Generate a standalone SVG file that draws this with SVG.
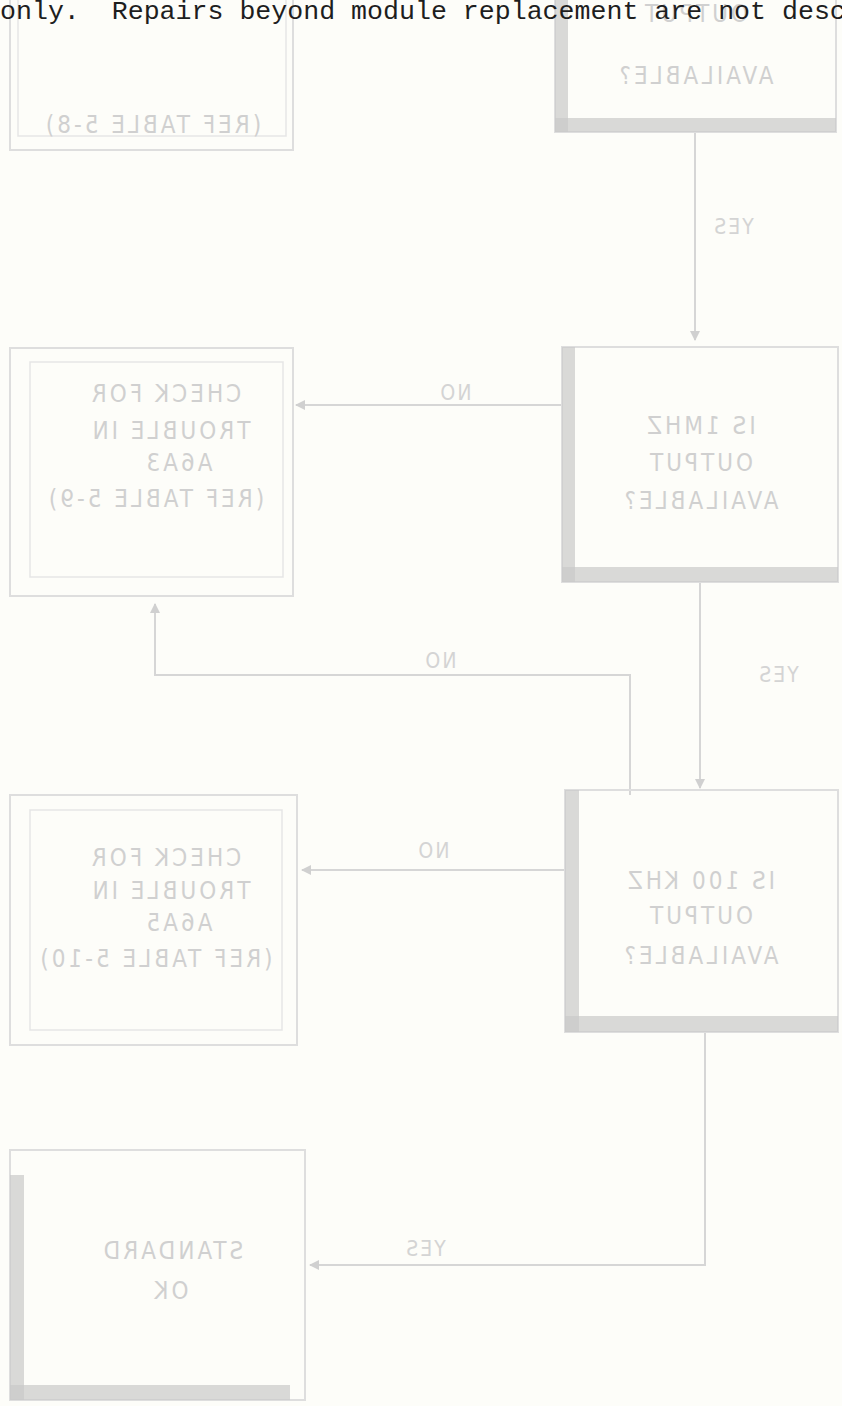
<svg xmlns="http://www.w3.org/2000/svg" width="842" height="1406" viewBox="0 0 842 1406">
<defs>
<style>
.bg{fill:#fdfdf9}
.box{fill:none;stroke:#dedede;stroke-width:2}
.boxi{fill:none;stroke:#e6e6e6;stroke-width:1.5}
.shade{fill:#c9c9c9;opacity:0.7}
.t{font-family:"DejaVu Sans Condensed","Liberation Sans",sans-serif;font-size:24px;fill:#d0d0d0;text-anchor:middle;letter-spacing:3px}
.lbl{font-family:"DejaVu Sans Condensed","Liberation Sans",sans-serif;font-size:21px;fill:#d4d4d4;text-anchor:middle;letter-spacing:2px}
.hdr{font-family:"Liberation Mono","DejaVu Sans Mono",monospace;font-size:26.6px;fill:#1e1e1e}
.c{fill:none;stroke:#d6d6d6;stroke-width:2}
</style>
<marker id="ah" viewBox="0 0 10 10" refX="9" refY="5" markerWidth="10" markerHeight="10" orient="auto" markerUnits="userSpaceOnUse">
<path d="M0,0 L10,5 L0,10 z" fill="#d0d0d0"/>
</marker>
</defs>
<rect class="bg" x="0" y="0" width="842" height="1406"/>

<g id="connectors">
<line class="c" x1="695" y1="132" x2="695" y2="340" marker-end="url(#ah)"/>
<line class="c" x1="562" y1="405" x2="296" y2="405" marker-end="url(#ah)"/>
<line class="c" x1="700" y1="582" x2="700" y2="788" marker-end="url(#ah)"/>
<polyline class="c" points="630,795 630,675 155,675 155,604" marker-end="url(#ah)"/>
<line class="c" x1="565" y1="870" x2="302" y2="870" marker-end="url(#ah)"/>
<polyline class="c" points="705,1032 705,1265 310,1265" marker-end="url(#ah)"/>
<g transform="translate(733 234) scale(-1 1)"><text class="lbl" x="0" y="0">YES</text></g>
<g transform="translate(455 400) scale(-1 1)"><text class="lbl" x="0" y="0">NO</text></g>
<g transform="translate(440 668) scale(-1 1)"><text class="lbl" x="0" y="0">NO</text></g>
<g transform="translate(778 682) scale(-1 1)"><text class="lbl" x="0" y="0">YES</text></g>
<g transform="translate(433 858) scale(-1 1)"><text class="lbl" x="0" y="0">NO</text></g>
<g transform="translate(425 1256) scale(-1 1)"><text class="lbl" x="0" y="0">YES</text></g>
</g>

<g id="nodeA">
<rect class="box" x="10" y="-10" width="283" height="160"/>
<rect class="boxi" x="18" y="-10" width="268" height="146"/>
<g transform="translate(152 133) scale(-1 1)"><text class="t" x="0" y="0">(REF TABLE 5-8)</text></g>
</g>

<g id="nodeB">
<rect class="box" x="555" y="-10" width="281" height="142"/>
<rect class="shade" x="555" y="0" width="13" height="132"/>
<rect class="shade" x="555" y="118" width="281" height="14"/>
<g transform="translate(695 22) scale(-1 1)"><text class="t" x="0" y="0">OUTPUT</text></g>
<g transform="translate(695 84) scale(-1 1)"><text class="t" x="0" y="0">AVAILABLE?</text></g>
</g>

<g id="nodeC">
<rect class="box" x="562" y="347" width="276" height="235"/>
<rect class="shade" x="562" y="347" width="13" height="235"/>
<rect class="shade" x="562" y="567" width="276" height="15"/>
<g transform="translate(700 434) scale(-1 1)"><text class="t" x="0" y="0">IS 1MHZ</text></g>
<g transform="translate(700 471) scale(-1 1)"><text class="t" x="0" y="0">OUTPUT</text></g>
<g transform="translate(700 509) scale(-1 1)"><text class="t" x="0" y="0">AVAILABLE?</text></g>
</g>

<g id="nodeD">
<rect class="box" x="10" y="348" width="283" height="248"/>
<rect class="boxi" x="30" y="362" width="253" height="215"/>
<g transform="translate(165 402) scale(-1 1)"><text class="t" x="0" y="0">CHECK  FOR</text></g>
<g transform="translate(170 439) scale(-1 1)"><text class="t" x="0" y="0">TROUBLE IN</text></g>
<g transform="translate(178 471) scale(-1 1)"><text class="t" x="0" y="0">A6A3</text></g>
<g transform="translate(155 507) scale(-1 1)"><text class="t" x="0" y="0">(REF TABLE 5-9)</text></g>
</g>

<g id="nodeE">
<rect class="box" x="565" y="790" width="273" height="242"/>
<rect class="shade" x="565" y="790" width="14" height="242"/>
<rect class="shade" x="565" y="1016" width="273" height="16"/>
<g transform="translate(700 889) scale(-1 1)"><text class="t" x="0" y="0">IS 100 KHZ</text></g>
<g transform="translate(700 924) scale(-1 1)"><text class="t" x="0" y="0">OUTPUT</text></g>
<g transform="translate(700 964) scale(-1 1)"><text class="t" x="0" y="0">AVAILABLE?</text></g>
</g>

<g id="nodeF">
<rect class="box" x="10" y="795" width="287" height="250"/>
<rect class="boxi" x="30" y="810" width="252" height="220"/>
<g transform="translate(165 866) scale(-1 1)"><text class="t" x="0" y="0">CHECK  FOR</text></g>
<g transform="translate(170 899) scale(-1 1)"><text class="t" x="0" y="0">TROUBLE IN</text></g>
<g transform="translate(178 931) scale(-1 1)"><text class="t" x="0" y="0">A6A5</text></g>
<g transform="translate(155 967) scale(-1 1)"><text class="t" x="0" y="0">(REF TABLE 5-10)</text></g>
</g>

<g id="nodeG">
<rect class="box" x="10" y="1150" width="295" height="250"/>
<rect class="shade" x="10" y="1175" width="14" height="225"/>
<rect class="shade" x="10" y="1385" width="280" height="15"/>
<g transform="translate(172 1259) scale(-1 1)"><text class="t" x="0" y="0">STANDARD</text></g>
<g transform="translate(170 1299) scale(-1 1)"><text class="t" x="0" y="0">OK</text></g>
</g>

<g id="header">
<text class="hdr" x="0" y="19" xml:space="preserve">only.  Repairs beyond module replacement are not desc</text>
</g>
</svg>
